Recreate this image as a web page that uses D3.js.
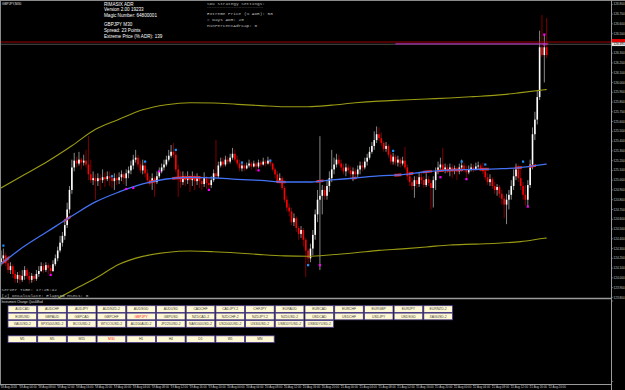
<!DOCTYPE html>
<html><head><meta charset="utf-8">
<script src="https://cdn.jsdelivr.net/npm/d3@7"></script>
<style>html,body{margin:0;padding:0;background:#000;overflow:hidden}</style>
</head><body><svg id="c" width="625" height="390"></svg>
<script>
// ---------- DATA ----------
const open=[124.16,124.20,124.23,124.15,124.08,124.12,124.04,123.99,124.03,123.98,
124.02,124.08,124.02,123.98,124.02,123.99,124.04,124.07,124.12,124.08,
124.13,124.10,124.07,124.14,124.20,124.28,124.36,124.43,124.54,124.70,
124.90,125.13,125.20,125.17,125.21,125.18,125.20,125.16,125.06,125.00,
125.02,124.99,125.02,125.00,125.03,125.01,125.04,125.02,124.99,125.02,
125.00,125.03,125.06,125.02,125.07,125.10,125.15,125.21,125.23,125.16,
125.10,125.15,125.07,125.00,124.98,125.02,124.98,125.04,125.09,125.13,
125.16,125.21,125.25,125.29,125.26,125.11,125.02,124.98,125.04,125.00,
125.03,125.00,125.02,124.99,125.02,124.99,124.96,125.02,124.97,124.95,
125.00,125.07,125.04,125.15,125.19,125.16,125.21,125.19,125.23,125.27,
125.21,125.17,125.12,125.15,125.12,125.15,125.17,125.14,125.17,125.14,
125.18,125.16,125.19,125.17,125.20,125.17,125.11,125.06,125.00,125.02,
124.92,124.80,124.72,124.68,124.57,124.61,124.51,124.45,124.49,124.39,
124.28,124.20,124.30,124.44,124.65,124.80,124.84,124.90,124.84,124.94,
125.02,125.11,125.16,125.21,125.17,125.13,125.09,125.13,125.10,125.06,
125.09,125.06,125.11,125.15,125.13,125.19,125.23,125.29,125.35,125.41,
125.47,125.43,125.38,125.32,125.35,125.26,125.19,125.24,125.18,125.21,
125.17,125.20,125.13,125.04,124.98,124.94,125.00,124.96,125.03,125.00,
124.95,125.01,124.97,124.92,125.00,125.09,125.13,125.16,125.11,125.13,
125.10,125.13,125.10,125.12,125.09,125.13,125.15,125.11,125.08,125.11,
125.13,125.11,125.14,125.15,125.12,125.09,125.03,124.98,125.01,124.94,
124.90,124.93,124.86,124.81,124.75,124.80,124.85,124.94,125.04,125.11,
125.02,124.94,124.85,124.80,124.95,125.16,125.47,125.62,125.85,126.36,
126.28,126.36];
const high=[124.28,124.30,124.26,124.19,124.16,124.14,124.08,124.06,124.07,124.08,
124.12,124.10,124.06,124.05,124.04,124.08,124.12,124.16,124.15,124.16,
124.15,124.13,124.18,124.24,124.32,124.43,124.47,124.59,124.77,124.94,
125.21,125.28,125.24,125.29,125.23,125.26,125.31,125.45,125.21,125.09,
125.06,125.07,125.06,125.11,125.08,125.09,125.09,125.06,125.07,125.06,
125.08,125.10,125.08,125.11,125.14,125.20,125.26,125.31,125.26,125.20,
125.21,125.19,125.11,125.04,125.07,125.04,125.09,125.13,125.17,125.21,
125.25,125.31,125.36,125.38,125.31,125.16,125.09,125.09,125.07,125.09,
125.06,125.09,125.06,125.07,125.04,125.04,125.08,125.04,125.02,125.04,
125.11,125.41,125.19,125.23,125.23,125.25,125.24,125.27,125.33,125.31,
125.25,125.21,125.19,125.17,125.18,125.21,125.19,125.20,125.19,125.21,
125.20,125.23,125.21,125.24,125.22,125.18,125.13,125.09,125.07,125.04,
124.94,124.84,124.76,124.72,124.66,124.63,124.53,124.53,124.51,124.41,
124.30,124.35,124.49,124.70,124.90,125.45,124.95,124.94,125.00,125.09,
125.31,125.23,125.27,125.26,125.21,125.17,125.17,125.16,125.14,125.13,
125.12,125.15,125.19,125.19,125.23,125.27,125.34,125.39,125.50,125.55,
125.54,125.49,125.40,125.39,125.37,125.29,125.28,125.26,125.25,125.23,
125.24,125.34,125.16,125.09,125.02,125.04,125.04,125.08,125.09,125.04,
125.07,125.04,125.00,125.04,125.13,125.19,125.23,125.33,125.17,125.16,
125.17,125.16,125.15,125.14,125.17,125.21,125.18,125.15,125.15,125.17,
125.16,125.18,125.19,125.17,125.18,125.13,125.07,125.06,125.03,124.98,
124.96,124.95,124.90,124.84,124.86,124.90,125.00,125.11,125.17,125.16,
125.13,124.98,124.95,125.00,125.21,125.54,125.70,125.92,126.53,126.69,
126.49,126.66];
const low=[124.12,124.16,124.12,124.05,124.04,124.00,123.95,123.95,123.94,123.96,
123.98,123.99,123.94,123.95,123.96,123.97,124.01,124.06,124.05,124.06,
124.04,124.02,124.06,124.12,124.17,124.26,124.32,124.39,124.51,124.66,
124.86,125.09,125.13,125.15,125.11,125.15,125.13,125.00,124.97,124.95,
124.80,124.94,124.90,124.97,124.93,124.99,124.94,124.92,124.90,124.95,
124.96,124.99,124.96,124.94,125.02,125.06,125.11,125.18,125.13,125.07,
125.06,125.03,124.97,124.94,124.90,124.83,124.96,125.02,125.07,125.10,
125.14,125.19,125.23,125.23,125.08,124.83,124.92,124.95,124.94,124.96,
124.88,124.94,124.90,124.95,124.92,124.90,124.93,124.91,124.91,124.92,
124.98,125.02,125.02,125.13,125.13,125.14,125.16,125.17,125.21,125.19,
125.14,125.09,125.09,125.09,125.11,125.13,125.11,125.13,125.09,125.12,
125.13,125.15,125.14,125.16,125.14,125.09,125.02,124.97,124.98,124.90,
124.77,124.68,124.63,124.54,124.53,124.47,124.39,124.41,124.32,124.01,
124.12,124.16,124.23,124.39,124.57,124.08,124.65,124.80,124.80,124.88,
124.98,125.06,125.13,125.15,125.10,125.06,125.04,125.07,125.02,124.99,
125.02,125.03,125.06,125.09,125.11,125.15,125.21,125.27,125.31,125.38,
125.40,125.35,125.29,125.29,125.23,125.16,125.16,125.15,125.14,125.13,
125.15,125.11,125.00,124.94,124.90,124.82,124.92,124.93,124.96,124.92,
124.93,124.94,124.70,124.72,124.90,125.06,125.11,125.09,125.07,125.07,
125.04,125.02,125.06,125.00,125.06,125.09,125.08,125.02,125.06,125.09,
125.08,125.10,125.11,125.09,125.06,125.00,124.95,124.94,124.91,124.86,
124.84,124.82,124.75,124.61,124.55,124.70,124.80,124.90,125.00,124.98,
124.90,124.80,124.74,124.73,124.92,125.11,125.41,125.57,125.82,126.26,
126.00,126.25];
const close=[124.20,124.23,124.15,124.08,124.12,124.04,123.99,124.03,123.98,124.02,
124.08,124.02,123.98,124.02,123.99,124.04,124.07,124.12,124.08,124.13,
124.10,124.07,124.14,124.20,124.28,124.36,124.43,124.54,124.70,124.90,
125.13,125.20,125.17,125.21,125.18,125.20,125.16,125.06,125.00,125.02,
124.99,125.02,125.00,125.03,125.01,125.04,125.02,124.99,125.02,125.00,
125.03,125.06,125.02,125.07,125.10,125.15,125.21,125.23,125.16,125.10,
125.15,125.07,125.00,124.98,125.02,124.98,125.04,125.09,125.13,125.16,
125.21,125.25,125.29,125.26,125.11,125.02,124.98,125.04,125.00,125.03,
125.00,125.02,124.99,125.02,124.99,124.96,125.02,124.97,124.95,125.00,
125.07,125.04,125.15,125.19,125.16,125.21,125.19,125.23,125.27,125.21,
125.17,125.12,125.15,125.12,125.15,125.17,125.14,125.17,125.14,125.18,
125.16,125.19,125.17,125.20,125.17,125.11,125.06,125.00,125.02,124.92,
124.80,124.72,124.68,124.57,124.61,124.51,124.45,124.49,124.39,124.28,
124.20,124.30,124.44,124.65,124.80,124.84,124.90,124.84,124.94,125.02,
125.11,125.16,125.21,125.17,125.13,125.09,125.13,125.10,125.06,125.09,
125.06,125.11,125.15,125.13,125.19,125.23,125.29,125.35,125.41,125.47,
125.43,125.38,125.32,125.35,125.26,125.19,125.24,125.18,125.21,125.17,
125.20,125.13,125.04,124.98,124.94,125.00,124.96,125.03,125.00,124.95,
125.01,124.97,124.92,125.00,125.09,125.13,125.16,125.11,125.13,125.10,
125.13,125.10,125.12,125.09,125.13,125.15,125.11,125.08,125.11,125.13,
125.11,125.14,125.15,125.12,125.09,125.03,124.98,125.01,124.94,124.90,
124.93,124.86,124.81,124.75,124.80,124.85,124.94,125.04,125.11,125.02,
124.94,124.85,124.80,124.95,125.16,125.47,125.62,125.85,126.36,126.28,
126.36,126.28];

const maBars=[0,10,20,30,40,50,60,70,80,90,100,110,120,130,140,150,160,170,180,190,200,210,220,230,231];
const maValues=[124.142,124.326,124.480,124.633,124.777,124.879,124.961,125.012,125.029,125.024,125.009,124.997,124.981,124.981,125.002,125.022,125.043,125.057,125.086,125.102,125.109,125.116,125.129,125.162,125.165];
const upperBand=[124.920,125.057,125.196,125.352,125.521,125.624,125.720,125.772,125.793,125.790,125.776,125.763,125.752,125.752,125.768,125.792,125.809,125.820,125.831,125.841,125.855,125.870,125.896,125.925,125.928];
const lowerBand=[123.385,123.559,123.733,123.867,123.995,124.139,124.220,124.260,124.275,124.268,124.255,124.238,124.225,124.221,124.236,124.257,124.281,124.297,124.316,124.337,124.345,124.354,124.371,124.405,124.408];

const redSegFrom=[1,27,63,73,117,134,149,167,173,179,185,189,194,203,218,224];
const redSegTo=[3,29,65,84,120,136,150,169,174,182,187,193,195,206,220,226];

const blueBars=[1,47,61,74,102,114,130,166,195,205,221];
const bluePrices=[124.33,125.04,125.19,125.31,125.18,125.20,124.13,125.30,125.19,125.16,125.19];
const magentaBars=[21,53,56,67,88,109,135,186,197,223,230,230];
const magentaPrices=[124.03,124.91,124.92,125.09,124.90,125.10,124.13,125.03,125.01,124.73,126.49,126.39];

const bidPrice=126.391, askPrice=126.414;
const extremeLevel=126.395, extremeFromBar=167;

const priceTicks=[126.8,126.7,126.6,126.5,126.4,126.3,126.2,126.1,126.0,125.9,125.8,125.7,125.6,125.5,125.4,125.3,125.2,125.1,125.0,124.9,124.8,124.7,124.6,124.5,124.4,124.3,124.2,124.1,124.0,123.9,123.8];

const timeBars=[0,8,16,24,32,40,48,56,64,72,80,88,96,104,112,120,128,136,144,152,160,168,176,184,192,200,208,216,224,232];
const timeLabels=["18 Aug 2016","18 Aug 04:00","18 Aug 08:00","18 Aug 12:00","18 Aug 16:00","18 Aug 20:00",
"19 Aug 00:00","19 Aug 04:00","19 Aug 08:00","19 Aug 12:00","19 Aug 16:00","19 Aug 20:00",
"20 Aug 00:00","20 Aug 04:00","20 Aug 08:00","20 Aug 12:00","20 Aug 16:00","20 Aug 20:00",
"21 Aug 00:00","21 Aug 04:00","21 Aug 08:00","21 Aug 12:00","21 Aug 16:00","21 Aug 20:00",
"22 Aug 00:00","22 Aug 04:00","22 Aug 08:00","22 Aug 12:00","22 Aug 16:00","22 Aug 20:00"];

const infoLines=["RIMASIX ADR","Version 2.00 19233","Magic Number: 64800001","GBPJPY M30","Spread: 23 Points","Extreme Price (% ADR): 139"];
const settingLines=["SDX Strategy Settings:","------------------------------------","Extreme Price (% ADR): 50","# Days ADR: 20","MinPercentAdrCap: 0"];
const statusLines=["Server Time: 17:25:42","[2] OnCalculate: Elapsed MSecs: 0"];

const symbolRow1=["AUDCAD","AUDCHF","AUDJPY","AUDNZD-2","AUDSGD","AUDUSD","CADCHF","CADJPY-2","CHFJPY","EURAUD","EURCAD","EURCHF","EURGBP","EURJPY","EURNZD-2"];
const symbolRow2=["EURUSD","GBPAUD","GBPCAD","GBPCHF","GBPJPY","GBPUSD","NZDCAD-2","NZDCHF-2","NZDJPY-2","NZDUSD-2","USDCAD","USDCHF","USDJPY","USDSGD","XAGUSD-2"];
const symbolRow3=["XAUUSD-2","SPX500USD-2","BCOUSD-2","WTICOUSD-2","AU200AUD-2","JP225USD-2","NAS100USD-2","US2000USD-2","US30USD-2","USB10YUSD-2","USB30YUSD-2"];
const timeframes=["M1","M5","M15","M30","H1","H4","D1","W1","MN"];
const activeSymbol="GBPJPY", activeTf="M30";

// ---------- DRAW ----------
const svg=d3.select('#c');
svg.append('rect').attr('width',625).attr('height',390).attr('fill','#000');
const x=d3.scaleLinear().domain([0,231]).range([1,546.7]);
const y=d3.scaleLinear().domain([123.8,126.8]).range([297.4,4.3]);
const defs=svg.append('defs');
defs.append('clipPath').attr('id','plot').append('rect').attr('x',1).attr('y',1).attr('width',610).attr('height',297);
const plot=svg.append('g').attr('clip-path','url(#plot)');

const bars=d3.range(close.length).map(i=>({i,o:open[i],h:high[i],l:low[i],c:close[i]}));
const bw=1.6;
plot.selectAll('line.wick').data(bars).join('line').attr('class','wick')
  .attr('x1',d=>x(d.i)).attr('x2',d=>x(d.i))
  .attr('y1',d=>y(d.h)).attr('y2',d=>y(d.l))
  .attr('stroke',d=>d.c>=d.o?'#a8a8a8':'#9b0000').attr('stroke-width',0.8);
plot.selectAll('rect.body').data(bars).join('rect').attr('class','body')
  .attr('x',d=>x(d.i)-bw/2).attr('width',bw)
  .attr('y',d=>y(Math.max(d.o,d.c)))
  .attr('height',d=>Math.max(0.7,Math.abs(y(d.o)-y(d.c))))
  .attr('fill',d=>d.c>=d.o?'#ffffff':'#ff0000');

const line=d3.line().x((d,k)=>x(maBars[k])).y(d=>y(d)).curve(d3.curveMonotoneX);
plot.append('path').attr('d',line(upperBand)).attr('fill','none').attr('stroke','#9a9a14').attr('stroke-width',1.1);
plot.append('path').attr('d',line(lowerBand)).attr('fill','none').attr('stroke','#9a9a14').attr('stroke-width',1.1);

const rc=defs.append('clipPath').attr('id','redseg');
redSegFrom.forEach((f,k)=>rc.append('rect').attr('x',x(f)-1.2).attr('y',0)
  .attr('width',x(redSegTo[k])-x(f)+2.4).attr('height',298));
plot.append('g').attr('clip-path','url(#redseg)').append('path').attr('d',line(maValues))
  .attr('fill','none').attr('stroke','#ff2a2a').attr('stroke-width',2.6);
plot.append('path').attr('d',line(maValues)).attr('fill','none').attr('stroke','#4372f5').attr('stroke-width',1.3);

plot.selectAll('rect.bm').data(blueBars).join('rect').attr('class','bm')
  .attr('x',(d)=>x(d)-1.1).attr('y',(d,k)=>y(bluePrices[k])-1.1).attr('width',2.2).attr('height',2.2)
  .attr('fill','#1e90ff');
plot.selectAll('rect.mm').data(magentaBars).join('rect').attr('class','mm')
  .attr('x',(d)=>x(d)-1.1).attr('y',(d,k)=>y(magentaPrices[k])-1.1).attr('width',2.2).attr('height',2.2)
  .attr('fill','#ff00ff');

// price lines
plot.append('line').attr('x1',0).attr('x2',611).attr('y1',y(askPrice)).attr('y2',y(askPrice)).attr('stroke','#b00000').attr('stroke-width',0.9);
plot.append('line').attr('x1',0).attr('x2',611).attr('y1',y(bidPrice)).attr('y2',y(bidPrice)).attr('stroke','#707070').attr('stroke-width',0.7);
plot.append('line').attr('x1',x(extremeFromBar)).attr('x2',x(231)+1.5).attr('y1',y(extremeLevel)).attr('y2',y(extremeLevel)).attr('stroke','#c030c8').attr('stroke-width',1);

// frame
const g=svg.append('g');
g.append('line').attr('x1',0).attr('x2',625).attr('y1',0.5).attr('y2',0.5).attr('stroke','#8a8a8a');
g.append('line').attr('x1',0.5).attr('x2',0.5).attr('y1',0).attr('y2',384).attr('stroke','#8a8a8a');
g.append('line').attr('x1',611.5).attr('x2',611.5).attr('y1',0).attr('y2',390).attr('stroke','#9a9a9a');
g.append('line').attr('x1',0).attr('x2',611.5).attr('y1',298.5).attr('y2',298.5).attr('stroke','#9a9a9a').attr('stroke-width',1.3);
g.append('line').attr('x1',0).attr('x2',611.5).attr('y1',384.5).attr('y2',384.5).attr('stroke','#9a9a9a');

// price axis
const pa=svg.append('g');
priceTicks.forEach(t=>{
  pa.append('line').attr('x1',611.5).attr('x2',613.2).attr('y1',y(t)).attr('y2',y(t)).attr('stroke','#9a9a9a').attr('stroke-width',0.6);
  pa.append('text').attr('x',613.6).attr('y',y(t)+1.1).text(t.toFixed(3))
    .attr('font-family','Liberation Sans, Arial, sans-serif').attr('font-size',3.1).attr('fill','#c8c8c8');
});
pa.append('line').attr('x1',611.5).attr('x2',613.2).attr('y1',301).attr('y2',301).attr('stroke','#9a9a9a').attr('stroke-width',0.6);
pa.append('line').attr('x1',611.5).attr('x2',613.2).attr('y1',381.5).attr('y2',381.5).attr('stroke','#9a9a9a').attr('stroke-width',0.6);
pa.append('rect').attr('x',611.8).attr('y',y(askPrice)-3).attr('width',13.2).attr('height',3.4).attr('fill','#e00000');
pa.append('rect').attr('x',611.8).attr('y',y(bidPrice)-1.8).attr('width',13.2).attr('height',3.6).attr('fill','#e4e4e4');
pa.append('text').attr('x',613.6).attr('y',y(bidPrice)+1.1).text(bidPrice.toFixed(3))
  .attr('font-family','Liberation Sans, Arial, sans-serif').attr('font-size',3.1).attr('fill','#000');

// time axis
const ta=svg.append('g');
timeBars.forEach((b,k)=>{
  ta.append('line').attr('x1',x(b)).attr('x2',x(b)).attr('y1',384.5).attr('y2',386.3).attr('stroke','#9a9a9a').attr('stroke-width',0.6);
  ta.append('text').attr('x',x(b)-0.3).attr('y',388.2).text(timeLabels[k])
    .attr('font-family','Liberation Sans, Arial, sans-serif').attr('font-size',2.9).attr('fill','#c8c8c8');
});

// texts
svg.append('text').attr('x',2).attr('y',4.6).text('GBPJPY,M30')
  .attr('font-family','Liberation Sans, Arial, sans-serif').attr('font-size',3.2).attr('fill','#e0e0e0');
const infoY=[5.7,11.5,17.3,26.3,32,37.7];
const ig=svg.append('g').attr('transform','translate(104,0) scale(0.84,1)');
infoLines.forEach((t,k)=>ig.append('text').attr('x',0).attr('y',infoY[k]).text(t)
  .attr('font-family','Liberation Sans, Arial, sans-serif').attr('font-size',5.5).attr('fill','#ffffff'));
const setY=[4.6,8.3,15.2,21,26.6];
const setSize=[4.4,2.6,4.4,4.4,4.4];
settingLines.forEach((t,k)=>svg.append('text').attr('x',207).attr('y',setY[k]).text(t)
  .attr('font-family','Liberation Mono, DejaVu Sans Mono, monospace').attr('font-size',setSize[k]).attr('fill','#bdbdbd'));
const stY=[290.6,297];
statusLines.forEach((t,k)=>svg.append('text').attr('x',1.5).attr('y',stY[k]).text(t)
  .attr('font-family','Liberation Mono, DejaVu Sans Mono, monospace').attr('font-size',4.4).attr('fill','#bdbdbd'));
svg.append('text').attr('x',1.5).attr('y',303).text('Instrument Change QuickMod')
  .attr('font-family','Liberation Sans, Arial, sans-serif').attr('font-size',3.1).attr('fill','#dddddd');

// buttons
const rows=[symbolRow1,symbolRow2,symbolRow3,timeframes];
const rowY=[305.7,313.1,320.6,335.8];
const bx0=8, bpitch=29.7, bwid=28.6, bh=6.7;
const bg=svg.append('g');
rows.forEach((row,r)=>{
  row.forEach((name,c)=>{
    const xx=bx0+c*bpitch, yy=rowY[r];
    bg.append('rect').attr('x',xx).attr('y',yy).attr('width',bwid).attr('height',bh)
      .attr('fill','#fff8d4').attr('stroke','#4a3e8e').attr('stroke-width',0.8);
    const active=(name===activeSymbol||name===activeTf);
    bg.append('text').attr('x',xx+bwid/2).attr('y',yy+bh/2+1.2).attr('text-anchor','middle').text(name)
      .attr('font-family','Liberation Sans, Arial, sans-serif').attr('font-size',3.4)
      .attr('fill',active?'#ff2020':'#404040');
  });
});
</script></body></html>
